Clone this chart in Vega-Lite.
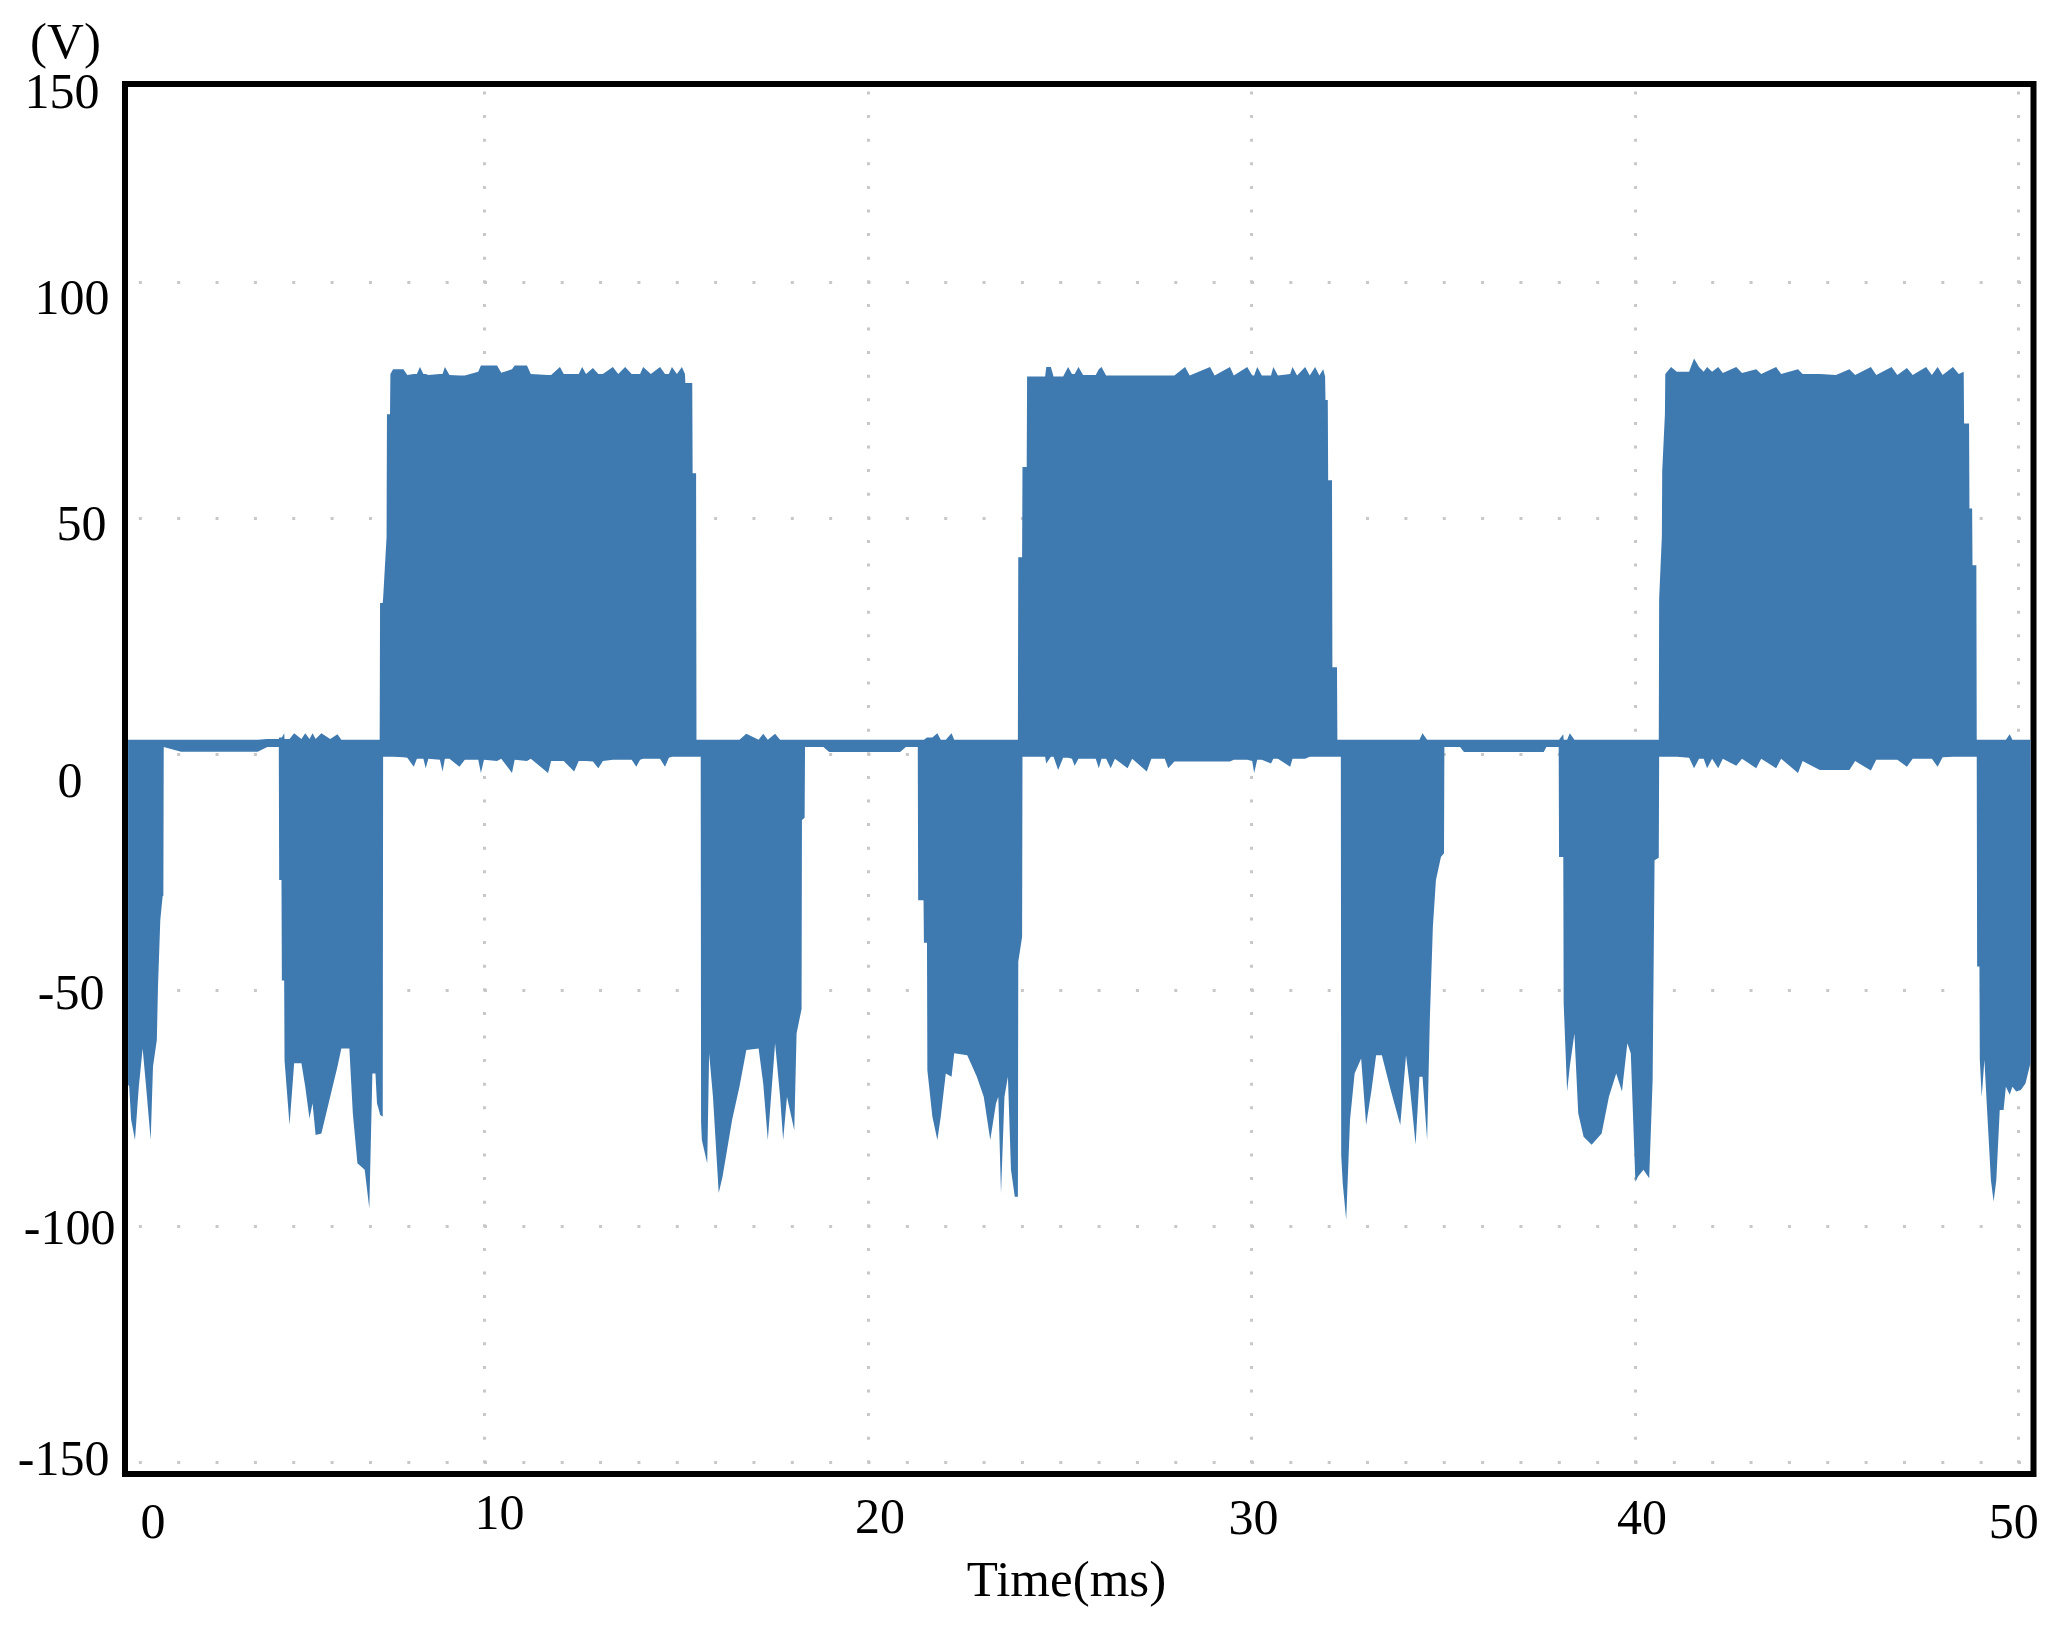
{
  "$schema": "https://vega.github.io/schema/vega-lite/v6.json",
  "autosize": {"type": "none"},
  "padding": {"left": 125, "top": 84, "right": 36.5, "bottom": 152},
  "width": 1908.5,
  "height": 1390,
  "background": "white",
  "view": {"stroke": "black", "strokeWidth": 6},
  "config": {"font": "Liberation Serif"},
  "data": {"values": [
    {"t":0.72,"hi":3,"lo":-70},{"t":0.75,"hi":3,"lo":-70.5},{"t":0.8,"hi":3,"lo":-77.5},{"t":0.9,"hi":3,"lo":-81.8},{"t":1,"hi":3,"lo":-70.5},{"t":1.1,"hi":3,"lo":-62.4},{"t":1.19,"hi":3,"lo":-70.5},{"t":1.31,"hi":3,"lo":-81.8},{"t":1.37,"hi":3,"lo":-66.2},{"t":1.47,"hi":3,"lo":-60.6},{"t":1.5,"hi":3,"lo":-49.3},{"t":1.56,"hi":3,"lo":-35.2},{"t":1.62,"hi":3,"lo":-30.2},{"t":1.64,"hi":3,"lo":-30},
    {"t":1.65,"hi":3,"lo":1.5},{"t":2.1,"hi":3,"lo":0.5},{"t":3,"hi":3,"lo":0.5},{"t":4.1,"hi":3,"lo":0.5},{"t":4.35,"hi":3.2,"lo":1.5},{"t":4.65,"hi":3.2,"lo":1.5},
    {"t":4.66,"hi":3.5,"lo":-26.7},{"t":4.72,"hi":3.5,"lo":-26.7},{"t":4.73,"hi":3.5,"lo":-48},{"t":4.79,"hi":4.4,"lo":-48},{"t":4.8,"hi":3.2,"lo":-65},{"t":4.93,"hi":3.2,"lo":-78.6},{"t":5.05,"hi":4.4,"lo":-65.5},{"t":5.24,"hi":3.2,"lo":-65.5},{"t":5.34,"hi":4.4,"lo":-70.5},{"t":5.45,"hi":3.2,"lo":-77.2},{"t":5.53,"hi":4.4,"lo":-74},{"t":5.61,"hi":3.2,"lo":-80.7},{"t":5.76,"hi":4.4,"lo":-80.4},{"t":5.99,"hi":3.2,"lo":-72.6},{"t":6.18,"hi":4.2,"lo":-66.2},{"t":6.28,"hi":3,"lo":-62.4},{"t":6.49,"hi":3,"lo":-62.4},{"t":6.58,"hi":3,"lo":-76.1},{"t":6.7,"hi":3,"lo":-86.7},{"t":6.89,"hi":3,"lo":-88.1},{"t":7.01,"hi":3,"lo":-96.3},{"t":7.09,"hi":3,"lo":-67.7},{"t":7.17,"hi":3,"lo":-67.7},{"t":7.21,"hi":3,"lo":-74},{"t":7.28,"hi":3,"lo":-76},
    {"t":7.29,"hi":32,"lo":-76.5},{"t":7.36,"hi":32,"lo":-76.8},{"t":7.37,"hi":33,"lo":-0.6},{"t":7.46,"hi":46,"lo":-0.6},{"t":7.47,"hi":72,"lo":-0.6},{"t":7.55,"hi":72,"lo":-0.6},{"t":7.56,"hi":80.5,"lo":-0.6},{"t":7.63,"hi":81.5,"lo":-0.6},{"t":7.9,"hi":81.5,"lo":-0.7},{"t":8,"hi":80.3,"lo":-0.8},{"t":8.17,"hi":80.5,"lo":-2.7},{"t":8.25,"hi":80.5,"lo":-1},{"t":8.33,"hi":82,"lo":-1},{"t":8.42,"hi":80.5,"lo":-1},{"t":8.48,"hi":80.5,"lo":-3},{"t":8.55,"hi":80.3,"lo":-1},{"t":8.85,"hi":80.5,"lo":-1.2},{"t":8.92,"hi":80.5,"lo":-3.7},{"t":8.98,"hi":82,"lo":-1},{"t":9.1,"hi":80.3,"lo":-1},{"t":9.36,"hi":80.2,"lo":-2.7},{"t":9.5,"hi":80.2,"lo":-1.2},{"t":9.85,"hi":81,"lo":-1.2},{"t":9.92,"hi":82.3,"lo":-4},{"t":10,"hi":82.3,"lo":-1.2},{"t":10.34,"hi":82.3,"lo":-1.5},{"t":10.45,"hi":80.8,"lo":-1},{"t":10.73,"hi":81.5,"lo":-4},{"t":10.8,"hi":82.3,"lo":-1.2},{"t":11.12,"hi":82.3,"lo":-1.5},{"t":11.22,"hi":80.5,"lo":-1},{"t":11.67,"hi":80.3,"lo":-4},{"t":11.75,"hi":80.3,"lo":-1.5},{"t":11.98,"hi":82,"lo":-1.5},{"t":12.08,"hi":80.5,"lo":-1.5},{"t":12.35,"hi":80.5,"lo":-3.7},{"t":12.47,"hi":80.5,"lo":-1.5},{"t":12.56,"hi":82,"lo":-1.5},{"t":12.66,"hi":80.5,"lo":-1.5},{"t":12.84,"hi":81.8,"lo":-1.6},{"t":12.98,"hi":80.5,"lo":-3},{"t":13.1,"hi":80.5,"lo":-1.5},{"t":13.36,"hi":82,"lo":-1.2},{"t":13.5,"hi":80.5,"lo":-1.2},{"t":13.68,"hi":82,"lo":-1.2},{"t":13.85,"hi":80.5,"lo":-1.2},{"t":13.97,"hi":80.5,"lo":-2.7},{"t":14.07,"hi":80.5,"lo":-1.2},{"t":14.15,"hi":82,"lo":-1},{"t":14.35,"hi":80.5,"lo":-1},{"t":14.59,"hi":82,"lo":-1},{"t":14.72,"hi":80.5,"lo":-2.7},{"t":14.82,"hi":80.5,"lo":-0.8},{"t":14.9,"hi":82,"lo":-0.6},{"t":15.03,"hi":80.5,"lo":-0.6},{"t":15.16,"hi":82,"lo":-0.6},{"t":15.24,"hi":80.5,"lo":-0.6},{"t":15.25,"hi":78.6,"lo":-0.6},{"t":15.43,"hi":78.6,"lo":-0.6},{"t":15.44,"hi":59.5,"lo":-0.6},{"t":15.53,"hi":59.5,"lo":-0.6},{"t":15.54,"hi":3,"lo":-0.6},{"t":15.65,"hi":3,"lo":-0.6},
    {"t":15.66,"hi":3,"lo":-78},{"t":15.68,"hi":3,"lo":-81.8},{"t":15.82,"hi":3,"lo":-86.7},{"t":15.87,"hi":3,"lo":-63.4},{"t":15.97,"hi":3,"lo":-72.6},{"t":16.12,"hi":3,"lo":-93},{"t":16.22,"hi":3,"lo":-89.5},{"t":16.47,"hi":3,"lo":-77.5},{"t":16.66,"hi":3,"lo":-70.5},{"t":16.84,"hi":4.3,"lo":-62.7},{"t":17.16,"hi":3,"lo":-62.4},{"t":17.28,"hi":4.3,"lo":-69.8},{"t":17.4,"hi":3,"lo":-81.8},{"t":17.59,"hi":4.3,"lo":-61.3},{"t":17.72,"hi":3,"lo":-72.6},{"t":17.8,"hi":3,"lo":-81.8},{"t":17.9,"hi":3,"lo":-72.6},{"t":18.09,"hi":3,"lo":-79.7},{"t":18.15,"hi":3,"lo":-59.2},{"t":18.28,"hi":3,"lo":-54},{"t":18.29,"hi":3,"lo":-14},{"t":18.36,"hi":3,"lo":-13.5},
    {"t":18.37,"hi":3,"lo":1.5},{"t":18.85,"hi":3,"lo":1.5},{"t":19,"hi":3,"lo":0.4},{"t":20,"hi":3,"lo":0.4},{"t":20.85,"hi":3,"lo":0.4},{"t":21,"hi":3,"lo":1.5},{"t":21.31,"hi":3,"lo":1.5},
    {"t":21.32,"hi":3,"lo":-31},{"t":21.46,"hi":3,"lo":-31},{"t":21.47,"hi":3,"lo":-40},{"t":21.55,"hi":3.5,"lo":-40},{"t":21.56,"hi":3.5,"lo":-67},{"t":21.69,"hi":3.5,"lo":-76.8},{"t":21.82,"hi":4.4,"lo":-81.8},{"t":21.91,"hi":3,"lo":-76.8},{"t":22.04,"hi":3,"lo":-67.7},{"t":22.19,"hi":4.4,"lo":-68.4},{"t":22.26,"hi":3,"lo":-63.4},{"t":22.6,"hi":3,"lo":-63.8},{"t":22.85,"hi":3,"lo":-68.4},{"t":23.03,"hi":3,"lo":-72.6},{"t":23.2,"hi":3,"lo":-81.8},{"t":23.35,"hi":3,"lo":-74},{"t":23.41,"hi":3,"lo":-72.6},{"t":23.48,"hi":3,"lo":-93.1},{"t":23.57,"hi":3,"lo":-72.6},{"t":23.66,"hi":3,"lo":-68.4},{"t":23.74,"hi":3,"lo":-88.1},{"t":23.84,"hi":3,"lo":-93.8},{"t":23.92,"hi":3,"lo":-93.8},
    {"t":23.93,"hi":41.7,"lo":-44},{"t":24.03,"hi":41.7,"lo":-38.7},{"t":24.04,"hi":60.8,"lo":-0.6},{"t":24.15,"hi":60.8,"lo":-0.6},{"t":24.16,"hi":80,"lo":-0.6},{"t":24.63,"hi":80,"lo":-0.6},{"t":24.66,"hi":82,"lo":-2},{"t":24.78,"hi":82,"lo":-0.6},{"t":24.85,"hi":80,"lo":-0.6},{"t":24.97,"hi":80,"lo":-3.4},{"t":25.1,"hi":80,"lo":-0.8},{"t":25.23,"hi":82,"lo":-0.8},{"t":25.33,"hi":80.5,"lo":-1},{"t":25.4,"hi":80.5,"lo":-2.5},{"t":25.5,"hi":82,"lo":-1},{"t":25.62,"hi":80.3,"lo":-1},{"t":25.95,"hi":80.3,"lo":-1},{"t":26.03,"hi":81.5,"lo":-3},{"t":26.1,"hi":82,"lo":-1},{"t":26.22,"hi":80.2,"lo":-1},{"t":26.34,"hi":80.2,"lo":-3},{"t":26.45,"hi":80.2,"lo":-1},{"t":26.78,"hi":80.2,"lo":-3},{"t":26.9,"hi":80.2,"lo":-1},{"t":27.28,"hi":80.2,"lo":-3.7},{"t":27.4,"hi":80.2,"lo":-1},{"t":27.75,"hi":80.2,"lo":-1},{"t":27.84,"hi":80.2,"lo":-3},{"t":28,"hi":80.2,"lo":-1.6},{"t":28.28,"hi":82,"lo":-1.6},{"t":28.4,"hi":80.2,"lo":-1.6},{"t":28.93,"hi":82,"lo":-1.6},{"t":29.05,"hi":80.2,"lo":-1.6},{"t":29.45,"hi":82,"lo":-1.6},{"t":29.55,"hi":80.2,"lo":-1.2},{"t":29.9,"hi":82,"lo":-1.2},{"t":30.03,"hi":80.2,"lo":-1.5},{"t":30.08,"hi":80.2,"lo":-4},{"t":30.16,"hi":82,"lo":-1.2},{"t":30.28,"hi":80.2,"lo":-1.2},{"t":30.52,"hi":80.2,"lo":-2},{"t":30.58,"hi":82,"lo":-1},{"t":30.7,"hi":80.2,"lo":-1},{"t":31.02,"hi":80.5,"lo":-2.7},{"t":31.08,"hi":82,"lo":-1},{"t":31.2,"hi":80.2,"lo":-1},{"t":31.41,"hi":82,"lo":-1},{"t":31.53,"hi":80.2,"lo":-0.6},{"t":31.67,"hi":82,"lo":-0.6},{"t":31.78,"hi":80.2,"lo":-0.6},{"t":31.88,"hi":81.5,"lo":-0.6},{"t":31.93,"hi":80,"lo":-0.6},{"t":31.94,"hi":75,"lo":-0.6},{"t":32,"hi":75,"lo":-0.6},{"t":32.01,"hi":58,"lo":-0.6},{"t":32.11,"hi":58,"lo":-0.6},{"t":32.12,"hi":18.4,"lo":-0.6},{"t":32.24,"hi":18.4,"lo":-0.6},{"t":32.25,"hi":3,"lo":-0.6},{"t":32.34,"hi":3,"lo":-0.6},
    {"t":32.35,"hi":3,"lo":-85},{"t":32.39,"hi":3,"lo":-91},{"t":32.48,"hi":3,"lo":-98.7},{"t":32.58,"hi":3,"lo":-77.5},{"t":32.7,"hi":3,"lo":-67.7},{"t":32.87,"hi":3,"lo":-64.5},{"t":33,"hi":3,"lo":-78.6},{"t":33.14,"hi":3,"lo":-71.2},{"t":33.26,"hi":3,"lo":-63.8},{"t":33.41,"hi":3,"lo":-63.8},{"t":33.64,"hi":3,"lo":-71.2},{"t":33.89,"hi":3,"lo":-78.6},{"t":34.04,"hi":3,"lo":-63.8},{"t":34.14,"hi":3,"lo":-70.5},{"t":34.29,"hi":3,"lo":-82.8},{"t":34.39,"hi":3,"lo":-68.4},{"t":34.47,"hi":4.4,"lo":-68.4},{"t":34.59,"hi":3,"lo":-81.8},{"t":34.66,"hi":3,"lo":-56.4},{"t":34.74,"hi":3,"lo":-36.6},{"t":34.82,"hi":3,"lo":-26.7},{"t":34.95,"hi":3,"lo":-21.8},{"t":35.03,"hi":3,"lo":-21},
    {"t":35.04,"hi":3,"lo":1.5},{"t":35.45,"hi":3,"lo":1.5},{"t":35.55,"hi":3,"lo":0.4},{"t":36.5,"hi":3,"lo":0.4},{"t":37.63,"hi":3,"lo":0.4},{"t":37.7,"hi":3,"lo":1.5},{"t":38.02,"hi":3,"lo":1.5},
    {"t":38.03,"hi":3,"lo":-21.8},{"t":38.14,"hi":4.2,"lo":-21.8},{"t":38.15,"hi":3,"lo":-52.8},{"t":38.24,"hi":3,"lo":-71.5},{"t":38.31,"hi":4.4,"lo":-66.2},{"t":38.43,"hi":3,"lo":-59.2},{"t":38.53,"hi":3,"lo":-76.1},{"t":38.67,"hi":3,"lo":-81.1},{"t":38.88,"hi":3,"lo":-82.8},{"t":39.14,"hi":3,"lo":-80.4},{"t":39.33,"hi":3,"lo":-72.6},{"t":39.52,"hi":3,"lo":-67.7},{"t":39.67,"hi":3,"lo":-71.5},{"t":39.81,"hi":3,"lo":-61.3},{"t":39.9,"hi":3,"lo":-63.4},{"t":40.02,"hi":3,"lo":-90.6},{"t":40.09,"hi":3,"lo":-89.5},{"t":40.23,"hi":3,"lo":-88.1},{"t":40.38,"hi":3,"lo":-89.9},{"t":40.47,"hi":3,"lo":-69},{"t":40.52,"hi":3,"lo":-22.5},{"t":40.63,"hi":3,"lo":-22},
    {"t":40.64,"hi":33,"lo":-0.6},{"t":40.71,"hi":46,"lo":-0.6},{"t":40.72,"hi":60,"lo":-0.6},{"t":40.79,"hi":72,"lo":-0.6},{"t":40.8,"hi":80.5,"lo":-0.6},{"t":40.95,"hi":82,"lo":-0.6},{"t":41.1,"hi":81,"lo":-0.6},{"t":41.42,"hi":81,"lo":-0.8},{"t":41.55,"hi":83.8,"lo":-3},{"t":41.68,"hi":82,"lo":-1},{"t":41.8,"hi":81,"lo":-1},{"t":41.89,"hi":82,"lo":-3},{"t":42.02,"hi":81,"lo":-1},{"t":42.18,"hi":82,"lo":-3},{"t":42.3,"hi":80.7,"lo":-1},{"t":42.65,"hi":82,"lo":-2.5},{"t":42.8,"hi":80.7,"lo":-1},{"t":43.17,"hi":81.5,"lo":-3},{"t":43.3,"hi":80.5,"lo":-1},{"t":43.69,"hi":82,"lo":-3},{"t":43.82,"hi":80.5,"lo":-1},{"t":44.26,"hi":81.5,"lo":-4},{"t":44.38,"hi":80.5,"lo":-1.5},{"t":44.83,"hi":80.5,"lo":-3.4},{"t":45.25,"hi":80.3,"lo":-3.4},{"t":45.6,"hi":81.5,"lo":-3.4},{"t":45.75,"hi":80.3,"lo":-1.5},{"t":46.16,"hi":82,"lo":-3.5},{"t":46.3,"hi":80.3,"lo":-1.2},{"t":46.7,"hi":82,"lo":-1.2},{"t":46.85,"hi":80.3,"lo":-1.2},{"t":47.1,"hi":81.8,"lo":-2.7},{"t":47.25,"hi":80.3,"lo":-1},{"t":47.6,"hi":82,"lo":-1},{"t":47.75,"hi":80.3,"lo":-1},{"t":47.9,"hi":82,"lo":-2.7},{"t":48.03,"hi":80.3,"lo":-0.7},{"t":48.3,"hi":82,"lo":-0.6},{"t":48.45,"hi":80.5,"lo":-0.6},{"t":48.58,"hi":81,"lo":-0.6},{"t":48.59,"hi":70,"lo":-0.6},{"t":48.72,"hi":70,"lo":-0.6},{"t":48.73,"hi":52,"lo":-0.6},{"t":48.8,"hi":52,"lo":-0.6},{"t":48.81,"hi":40,"lo":-0.6},{"t":48.91,"hi":40,"lo":-0.6},{"t":48.92,"hi":3,"lo":-0.6},
    {"t":48.93,"hi":3,"lo":-45},{"t":48.99,"hi":3,"lo":-45},{"t":49,"hi":3,"lo":-64.8},{"t":49.05,"hi":3,"lo":-72.6},{"t":49.12,"hi":3,"lo":-64.8},{"t":49.19,"hi":3,"lo":-75.4},{"t":49.29,"hi":3,"lo":-90.3},{"t":49.36,"hi":3,"lo":-94.8},{"t":49.43,"hi":3,"lo":-90.3},{"t":49.52,"hi":3,"lo":-75.4},{"t":49.62,"hi":3,"lo":-75.4},{"t":49.68,"hi":3,"lo":-70.5},{"t":49.78,"hi":4.2,"lo":-72.2},{"t":49.85,"hi":3,"lo":-70.5},{"t":49.95,"hi":3,"lo":-71.5},{"t":50.07,"hi":3,"lo":-71.2},{"t":50.19,"hi":3,"lo":-69.8},{"t":50.32,"hi":3,"lo":-65.5}
  ]},
  "mark": {"type": "area", "color": "#3e79b0", "interpolate": "linear"},
  "encoding": {
    "x": {
      "field": "t",
      "type": "quantitative",
      "scale": {"domain": [0.64, 50.4], "nice": false, "zero": false},
      "axis": {
        "values": [0.65, 10, 20, 30, 40, 50],
        "labelExpr": "datum.value < 5 ? '0' : '' + datum.value",
        "title": "Time(ms)",
        "titleFont": "Liberation Serif",
        "titleFontWeight": "normal",
        "titleFontSize": 51,
        "titleColor": "black",
        "titleX": 941,
        "titleY": 106,
        "titleBaseline": "middle",
        "titleAlign": "center",
        "domain": false,
        "ticks": false,
        "labelFont": "Liberation Serif",
        "labelFontSize": 50,
        "labelColor": "black",
        "labelPadding": 44,
        "labelBaseline": "middle",
        "labelAlign": "center",
        "labelOverlap": false,
        "labelBound": false,
        "labelFlush": false,
        "grid": true,
        "gridColor": "#c8c8c8",
        "gridWidth": 3,
        "gridDash": [3, 20.6],
        "gridDashOffset": 16.6,
        "gridOpacity": {"condition": {"test": "datum.value < 5", "value": 0}, "value": 1},
        "encoding": {
          "labels": {
            "dx": {"value": {"expr": "datum.value < 5 ? 27 : datum.value == 10 ? 15 : datum.value == 20 ? 12 : datum.value == 30 ? 2 : datum.value == 40 ? 7 : -5"}},
            "dy": {"value": {"expr": "datum.value < 5 ? 4 : datum.value == 10 ? -5 : datum.value == 20 ? -1 : datum.value == 50 ? 4 : 0"}}
          }
        }
      }
    },
    "y": {
      "field": "hi",
      "type": "quantitative",
      "scale": {"domain": [-152.54, 141.95], "nice": false, "zero": false},
      "axis": {
        "values": [-150, -100, -50, 0, 50, 100, 141.9],
        "labelExpr": "datum.value > 140 ? '150' : '' + datum.value",
        "title": "(V)",
        "titleFont": "Liberation Serif",
        "titleFontWeight": "normal",
        "titleFontSize": 51,
        "titleColor": "black",
        "titleAngle": 0,
        "titleX": -60,
        "titleY": -42,
        "titleBaseline": "middle",
        "titleAlign": "center",
        "domain": false,
        "ticks": false,
        "labelFont": "Liberation Serif",
        "labelFontSize": 50,
        "labelColor": "black",
        "labelPadding": 10,
        "labelBaseline": "middle",
        "labelAlign": "right",
        "labelOverlap": false,
        "labelBound": false,
        "labelFlush": false,
        "grid": true,
        "gridColor": "#c8c8c8",
        "gridWidth": 3,
        "gridDash": [3, 35.35],
        "gridDashOffset": 25,
        "gridOpacity": {"condition": {"test": "datum.value > 140", "value": 0}, "value": 1},
        "encoding": {
          "labels": {
            "dx": {"value": {"expr": "datum.value > 140 ? -16 : datum.value == 100 ? -6 : datum.value == 50 ? -9 : datum.value == 0 ? -33 : datum.value == -50 ? -11 : datum.value == -100 ? 0 : -6"}},
            "dy": {"value": {"expr": "datum.value > 140 ? 8 : datum.value == 100 ? 16 : datum.value == 50 ? 6 : datum.value == 0 ? 27 : datum.value == -50 ? 3 : datum.value == -100 ? 2 : -3"}}
          }
        }
      }
    },
    "y2": {"field": "lo"}
  }
}
